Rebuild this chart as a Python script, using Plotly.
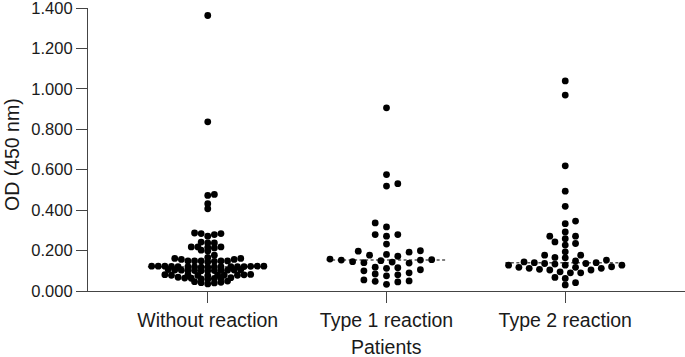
import numpy as np
import plotly.graph_objects as go

# ---------------- data ----------------
categories = ["Without reaction", "Type 1 reaction", "Type 2 reaction"]

without_reaction = [
    1.363, 0.837, 0.478, 0.473, 0.432, 0.407,
    0.287, 0.284, 0.284, 0.279, 0.271,
    0.242, 0.238, 0.238,
    0.218, 0.218, 0.218, 0.216, 0.213,
    0.202, 0.198,
    0.177,
    0.166, 0.161, 0.161,
    0.156, 0.156, 0.149, 0.149, 0.149, 0.149, 0.149, 0.147, 0.144,
    0.123, 0.123, 0.123, 0.123, 0.123, 0.122, 0.122, 0.121, 0.121,
    0.120, 0.120, 0.120, 0.120, 0.119, 0.119, 0.118, 0.118,
    0.106, 0.105, 0.104, 0.104, 0.103, 0.103, 0.102, 0.102, 0.101, 0.101, 0.100, 0.100,
    0.082, 0.081, 0.080, 0.080, 0.079, 0.079, 0.078, 0.078, 0.077, 0.076,
    0.068, 0.066, 0.064, 0.063, 0.063, 0.062, 0.060, 0.058,
    0.049, 0.046, 0.043, 0.041, 0.040,
    0.035,
]

type1_reaction = [
    0.906, 0.576, 0.531, 0.519,
    0.337, 0.317,
    0.279, 0.279, 0.271,
    0.232,
    0.199, 0.197, 0.192,
    0.181, 0.177, 0.172,
    0.158, 0.155, 0.153, 0.153,
    0.150, 0.145, 0.143, 0.140, 0.138,
    0.118, 0.115, 0.112, 0.105, 0.100,
    0.090, 0.084, 0.080, 0.075,
    0.055, 0.050, 0.048, 0.045, 0.033,
]

type2_reaction = [
    1.039, 0.969, 0.619,
    0.494, 0.419,
    0.346, 0.333, 0.292,
    0.271, 0.271, 0.259, 0.243, 0.235, 0.227,
    0.194, 0.177, 0.177,
    0.166, 0.164, 0.153, 0.149, 0.144,
    0.140, 0.140, 0.136, 0.136, 0.133,
    0.128, 0.128, 0.128, 0.120, 0.117, 0.117,
    0.112, 0.112, 0.107, 0.104, 0.104,
    0.095, 0.090, 0.090,
    0.067, 0.062, 0.041, 0.030,
]

series = [without_reaction, type1_reaction, type2_reaction]

y_tick_values = [0.0, 0.2, 0.4, 0.6, 0.8, 1.0, 1.2, 1.4]
y_tick_labels = ["0.000", "0.200", "0.400", "0.600", "0.800", "1.000", "1.200", "1.400"]

x_title = "Patients"
y_title = "OD (450 nm)"

# ---------------- layout geometry ----------------
W, H = 685, 357
MARGIN = dict(l=88, r=0, t=8, b=66)
X_RANGE = [-0.67, 2.67]
Y_RANGE = [0.0, 1.4]
PLOT_W = W - MARGIN["l"] - MARGIN["r"]
PLOT_H = H - MARGIN["t"] - MARGIN["b"]
PX_X = PLOT_W / (X_RANGE[1] - X_RANGE[0])
PX_Y = PLOT_H / (Y_RANGE[1] - Y_RANGE[0])

# horizontal / vertical spacing (px) used by the swarm layout for each group
SWARM_SX = [6.6, 11.3, 10.3]
SWARM_SY = [3.6, 6.4, 6.0]
MEDIAN_HALF_WIDTH = 0.335
FONT = "Liberation Sans, Arial, sans-serif"
TEXT_COLOR = "#1a1a1a"
AXIS_COLOR = "#444444"


def swarm_offsets(values, sx, sy):
    """Grid beeswarm: each point takes the slot closest to the centre that
    does not collide (elliptical test) with points already placed."""
    ys = np.asarray(values, dtype=float) * PX_Y
    order = np.argsort(ys, kind="stable")
    placed = []
    offs = np.zeros(len(ys))
    step = sx / 2.0
    side = 1
    for idx in order:
        y = ys[idx]
        cands = [0]
        for k in range(1, 80):
            cands += [side * k, -side * k]
        x = 0.0
        for k in cands:
            x = k * step
            ok = True
            for (qx, qy) in placed:
                if ((x - qx) / sx) ** 2 + ((y - qy) / sy) ** 2 < 1 - 1e-9:
                    ok = False
                    break
            if ok:
                break
        if x != 0 and x * side > 0:
            side = -side
        placed.append((x, y))
        offs[idx] = x
    return offs / PX_X


fig = go.Figure()

# median lines
for i, vals in enumerate(series):
    med = float(np.median(vals))
    fig.add_trace(go.Scatter(
        x=[i - MEDIAN_HALF_WIDTH, i + MEDIAN_HALF_WIDTH], y=[med, med],
        mode="lines", line=dict(color="#555555", width=1.6, dash="3px,2.5px"),
        hoverinfo="skip", showlegend=False,
    ))

# points
for i, vals in enumerate(series):
    offs = swarm_offsets(vals, SWARM_SX[i], SWARM_SY[i])
    fig.add_trace(go.Scatter(
        x=i + offs, y=vals, mode="markers",
        marker=dict(color="black", size=6.8, line=dict(width=0)),
        name=categories[i], showlegend=False, cliponaxis=False,
    ))

fig.update_layout(
    width=W, height=H, margin=MARGIN,
    paper_bgcolor="white", plot_bgcolor="white",
    font=dict(family=FONT, color=TEXT_COLOR),
    showlegend=False,
    annotations=[
        dict(text=y_title, xref="paper", yref="paper",
             x=(12 - MARGIN["l"]) / PLOT_W, y=(H - MARGIN["b"] - 155) / PLOT_H,
             xanchor="center", yanchor="middle", textangle=-90, showarrow=False,
             font=dict(size=19.5, family=FONT, color=TEXT_COLOR)),
        dict(text=x_title, xref="paper", yref="paper",
             x=(386 - MARGIN["l"]) / PLOT_W, y=(H - MARGIN["b"] - 347) / PLOT_H,
             xanchor="center", yanchor="middle", showarrow=False,
             font=dict(size=19.5, family=FONT, color=TEXT_COLOR)),
    ],
)
fig.update_xaxes(
    range=X_RANGE, tickmode="array", tickvals=[0, 1, 2], ticktext=categories,
    showline=True, linecolor=AXIS_COLOR, linewidth=1.2,
    ticks="outside", ticklen=11, tickwidth=1.2, tickcolor=AXIS_COLOR,
    showgrid=False, zeroline=False, automargin=False, ticklabeloverflow="allow",
    tickfont=dict(size=19.5, family=FONT, color=TEXT_COLOR),
)
fig.update_yaxes(
    range=Y_RANGE, tickmode="array", tickvals=y_tick_values, ticktext=y_tick_labels,
    showline=True, linecolor=AXIS_COLOR, linewidth=1.2,
    ticks="outside", ticklen=11, tickwidth=1.2, tickcolor=AXIS_COLOR,
    showgrid=False, zeroline=False, automargin=False, ticklabeloverflow="allow",
    tickfont=dict(size=16.5, family=FONT, color=TEXT_COLOR),
)

fig.write_html(
    "out.html",
    config={"displayModeBar": False},
    post_script="document.body.style.margin='0';document.body.style.overflow='hidden';",
)
